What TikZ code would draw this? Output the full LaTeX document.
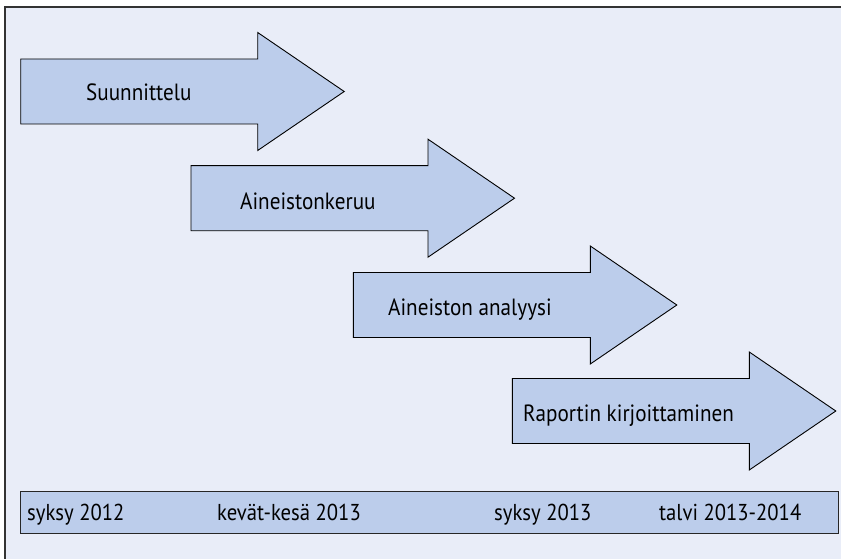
\documentclass[tikz,border=0pt]{standalone}
\usepackage{fontspec}
\setmainfont{PT Sans}[FakeStretch=0.9]
\definecolor{bgc}{HTML}{E9EDF8}
\definecolor{arrowc}{HTML}{BCCDEB}
\definecolor{framec}{HTML}{333333}
\begin{document}
\begin{tikzpicture}[x=1pt,y=-1pt,
  phasearrow/.style={fill=arrowc,draw=black,line width=0.9pt,line join=miter},
  arrowlabel/.style={anchor=base west,inner sep=0pt,font=\fontsize{23.5}{26}\selectfont},
  barlabel/.style={anchor=base west,inner sep=0pt,font=\fontsize{23}{25}\selectfont},
  timebar/.style={fill=arrowc,draw=black!85,line width=1pt}]
\useasboundingbox (0,0) rectangle (841,559);
\fill[white] (0,0) rectangle (841,559);
\fill[bgc] (5,7) rectangle (850,570);
\draw[framec,line width=1.6pt] (5,570) -- (5,7) -- (850,7);
% arrows: left L, centre C
\newcommand{\phasearr}[2]{%
  \draw[phasearrow] (#1,#2-32.5) -- (#1+237,#2-32.5) -- (#1+237,#2-59) -- (#1+323.5,#2)
    -- (#1+237,#2+59) -- (#1+237,#2+32.5) -- (#1,#2+32.5) -- cycle;}
\phasearr{20.7}{91.5}
\phasearr{191}{198.2}
\phasearr{353.3}{305}
\phasearr{512.3}{411}
\node[arrowlabel] (a1) at (86,101) {Suunnittelu};
\node[arrowlabel] (a2) at (240,209) {Aineistonkeruu};
\node[arrowlabel] (a3) at (388,315) {Aineiston analyysi};
\node[arrowlabel] (a4) at (523,421) {Raportin kirjoittaminen};
% timeline bar
\draw[timebar] (20.5,491) rectangle (838.5,533);
\node[barlabel] (t1) at (27,520) {syksy 2012};
\node[barlabel] (t2) at (217,520) {kevät-kesä 2013};
\node[barlabel] (t3) at (494,520) {syksy 2013};
\node[barlabel] (t4) at (659,520) {talvi 2013-2014};
\end{tikzpicture}
\end{document}
